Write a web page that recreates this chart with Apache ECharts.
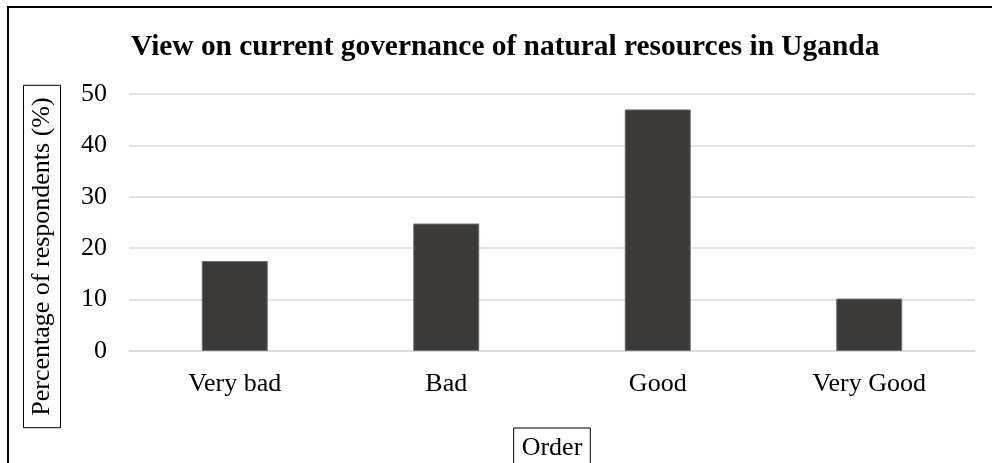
<!DOCTYPE html>
<html>
<head>
<meta charset="utf-8">
<script src="https://cdn.jsdelivr.net/npm/echarts@6/dist/echarts.min.js"></script>
<style>
html,body{margin:0;padding:0;background:#fff;}
#chart{width:992px;height:463px;}
</style>
</head>
<body>
<div id="chart"></div>
<script>
const titleText = 'View on current governance of natural resources in Uganda';
const categories = ['Very bad', 'Bad', 'Good', 'Very Good'];
const percentages = [17.5, 24.8, 47.0, 10.2];
const yTicks = [0, 10, 20, 30, 40, 50];
const yAxisTitle = 'Percentage of respondents (%)';
const xAxisTitle = 'Order';

const FONT = 'Liberation Serif, Times New Roman, serif';
const chart = echarts.init(document.getElementById('chart'), null, {renderer: 'canvas'});
chart.setOption({
  backgroundColor: '#ffffff',
  animation: false,
  title: {
    text: titleText,
    left: 126,
    top: 28,
    textStyle: {fontFamily: FONT, fontSize: 29.4, fontWeight: 'bold', color: '#000'}
  },
  grid: {left: 129, right: 17, top: 94, bottom: 112, outerBoundsMode: 'none'},
  xAxis: {
    type: 'category',
    data: categories,
    axisLine: {lineStyle: {color: '#d9d9d9', width: 1.5}},
    axisTick: {show: false},
    axisLabel: {fontFamily: FONT, fontSize: 26, color: '#000', margin: 20},
    name: xAxisTitle,
    nameLocation: 'middle',
    nameGap: 77,
    nameTextStyle: {
      fontFamily: FONT, fontSize: 26, color: '#000',
      borderColor: '#000', borderWidth: 1, padding: [6, 8, 6, 8], lineHeight: 28
    }
  },
  yAxis: {
    type: 'value',
    min: yTicks[0],
    max: yTicks[yTicks.length - 1],
    interval: 10,
    axisLine: {show: false},
    axisTick: {show: false},
    splitLine: {lineStyle: {color: '#d9d9d9', width: 1.5}},
    axisLabel: {fontFamily: FONT, fontSize: 26, color: '#000', margin: 22}
  },
  graphic: [
    {
      type: 'rect',
      shape: {x: 8, y: 7, width: 1100, height: 600},
      style: {fill: 'none', stroke: '#000', lineWidth: 2},
      silent: true
    },
    {
      type: 'text',
      x: 42, y: 256.5,
      rotation: Math.PI / 2,
      style: {
        text: yAxisTitle,
        font: '26px ' + FONT,
        fill: '#000',
        align: 'center',
        verticalAlign: 'middle',
        borderColor: '#000', borderWidth: 1,
        padding: [4, 12, 5, 12],
        lineHeight: 28
      }
    }
  ],
  series: [{
    type: 'bar',
    data: percentages,
    barWidth: 66,
    itemStyle: {color: '#3b3a38', borderColor: '#6f6f6f', borderWidth: 1}
  }]
});
</script>
</body>
</html>
